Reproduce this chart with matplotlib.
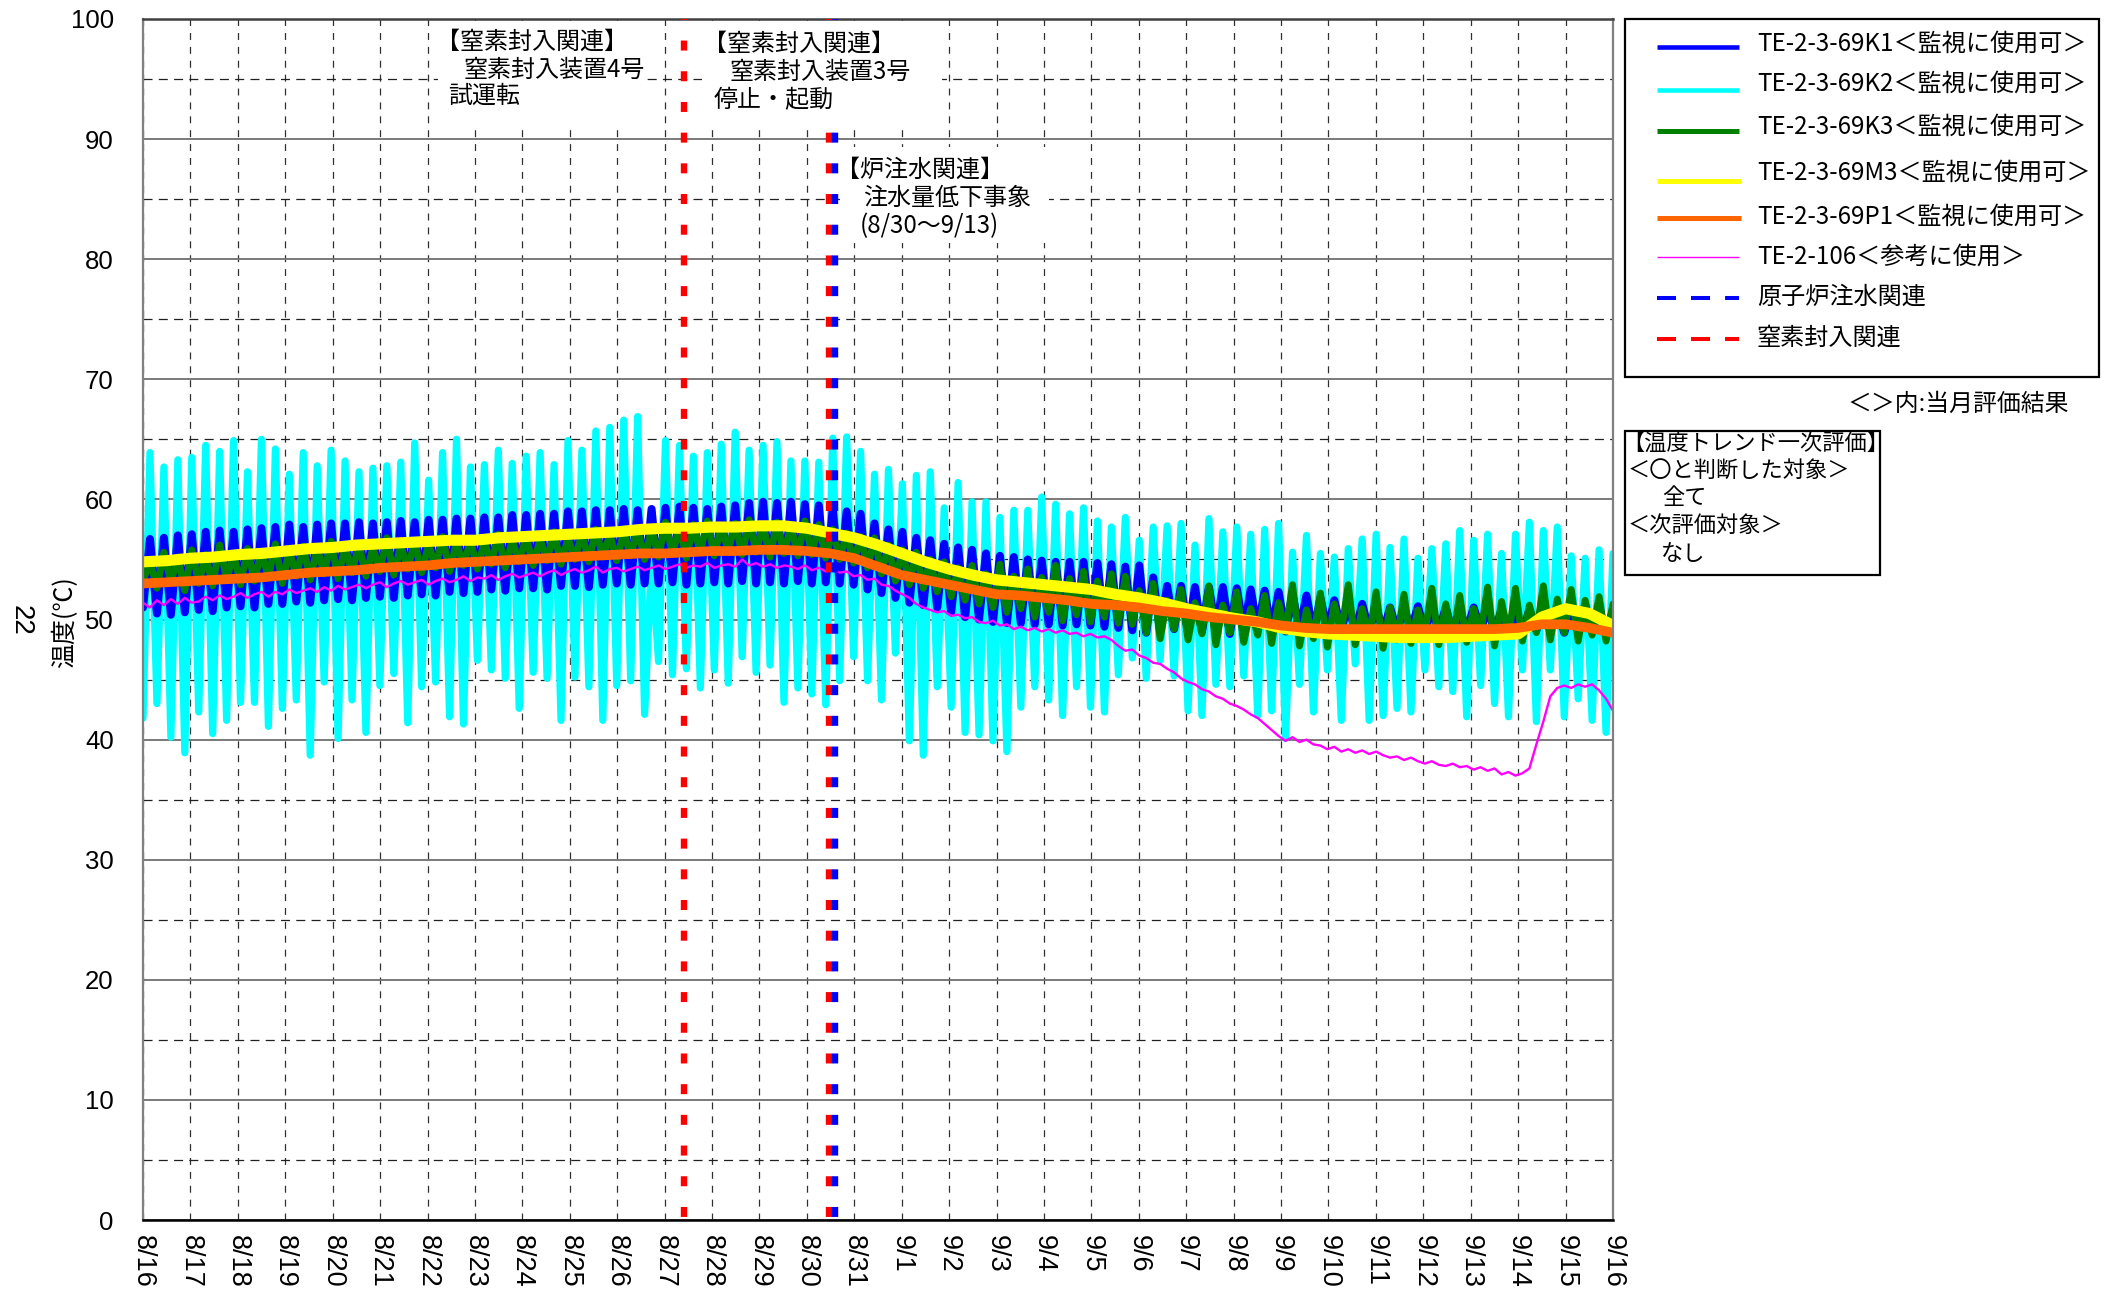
import numpy as np
import matplotlib
matplotlib.use("Agg")
import matplotlib.pyplot as plt
from matplotlib.lines import Line2D
from matplotlib.patches import Rectangle
from matplotlib.ticker import MultipleLocator

plt.rcParams['font.family'] = ['Liberation Sans', 'Noto Sans CJK JP', 'DejaVu Sans']
plt.rcParams['lines.scale_dashes'] = False
JP = ['Noto Sans CJK JP', 'DejaVu Sans']

# ---------------- data ----------------
x_labels = ['8/16', '8/17', '8/18', '8/19', '8/20', '8/21', '8/22', '8/23', '8/24', '8/25',
            '8/26', '8/27', '8/28', '8/29', '8/30', '8/31', '9/1', '9/2', '9/3', '9/4',
            '9/5', '9/6', '9/7', '9/8', '9/9', '9/10', '9/11', '9/12', '9/13', '9/14',
            '9/15', '9/16']
n_days = 31                 # 8/16 0:00 -> 9/16 0:00
n_samples = 212             # readings (alternating low / high)
sample_step = n_days / (n_samples - 1)
hd_step = 0.5               # half-day samples for the smooth series

# TE-2-3-69K2 (cyan): lows and highs of each swing
k2_lows = [41.8,
           43.0, 40.2, 38.9, 42.3, 40.5, 41.6, 43.1, 43.1, 41.1, 42.6,
           43.3, 38.7, 44.8, 40.1, 43.3, 40.6, 44.5, 45.5, 41.4, 44.4,
           44.8, 41.9, 41.3, 46.6, 45.8, 45.1, 42.6, 45.6, 45.1, 41.6,
           45.2, 44.4, 41.6, 44.5, 44.9, 42.1, 46.5, 45.4, 45.9, 44.3,
           45.8, 44.7, 46.9, 45.6, 46.2, 43.1, 44.3, 43.8, 42.9, 44.9,
           46.9, 44.9, 43.3, 47.2, 39.9, 38.7, 44.4, 42.7, 40.6, 40.4,
           39.9, 39.0, 42.7, 44.4, 43.3, 42.0, 44.4, 42.7, 42.3, 45.4,
           46.8, 45.1, 46.6, 45.3, 42.4, 42.0, 44.6, 44.4, 45.3, 42.0,
           42.4, 40.1, 44.6, 42.3, 45.8, 41.6, 46.3, 41.6, 42.0, 42.6,
           42.3, 45.8, 44.4, 44.0, 41.9, 44.5, 43.0, 41.9, 45.8, 41.5,
           45.8, 41.9, 43.4, 41.6, 40.6]
k2_highs = [63.9, 62.7, 63.3, 63.5, 64.5, 64.0, 64.9, 62.3, 65.0, 64.2,
            62.1, 63.9, 62.8, 64.1, 63.2, 62.3, 62.6, 62.8, 63.1, 64.7,
            61.6, 63.9, 65.0, 62.7, 62.9, 64.1, 63.0, 63.6, 63.9, 62.9,
            64.9, 64.1, 65.7, 66.0, 66.6, 66.9, 55.0, 64.9, 64.5, 63.6,
            63.9, 64.6, 65.6, 64.1, 64.5, 64.8, 63.2, 63.2, 63.1, 65.1,
            65.2, 64.0, 62.1, 62.5, 61.3, 62.0, 62.3, 59.3, 61.4, 59.8,
            59.8, 58.5, 59.1, 59.1, 60.2, 59.6, 58.8, 59.3, 58.2, 57.7,
            58.5, 56.6, 57.7, 57.8, 58.0, 56.2, 58.4, 57.3, 57.7, 57.1,
            57.5, 58.0, 55.6, 57.0, 55.5, 55.2, 55.9, 56.7, 57.1, 56.0,
            56.7, 55.1, 55.9, 56.3, 57.4, 56.6, 57.1, 55.5, 57.1, 58.1,
            57.4, 57.7, 55.3, 55.1, 55.8, 55.5]

# TE-2-3-69K1 (blue)
k1_lows = [51.0,
           50.5, 50.4, 50.6, 50.8, 50.7, 51.0, 51.1, 51.0, 51.3, 51.3,
           51.5, 51.4, 51.6, 51.7, 51.6, 51.8, 51.9, 51.8, 52.0, 52.1,
           52.0, 52.3, 52.2, 52.3, 52.5, 52.4, 52.6, 52.6, 52.5, 52.8,
           52.8, 52.7, 52.9, 53.0, 52.9, 53.0,
           53.0, 53.1, 52.9, 53.0, 53.1, 53.0, 53.2, 53.0, 53.1, 53.0, 53.2, 53.0, 53.1,
           53.0, 52.9, 52.5, 52.2, 51.8, 51.4, 51.2, 51.0, 50.6, 50.2,
           50.0, 49.8, 49.7, 49.7, 49.6, 49.6, 49.5, 49.6, 49.5, 49.4, 49.3,
           49.1, 48.9, 49.0, 49.2, 48.9, 49.0, 49.1, 48.8, 49.0, 49.1,
           48.9, 49.0, 49.0, 48.8, 49.0, 49.1, 48.9, 49.0, 48.9, 49.0,
           49.1, 48.9, 49.0, 48.8, 49.0, 49.1, 49.0, 48.9, 49.0, 49.1,
           49.0, 48.9, 48.9, 49.0, 48.8]
k1_highs = [56.7, 56.8, 57.0, 57.1, 57.3, 57.4, 57.3, 57.5, 57.6, 57.7,
            57.9, 57.7, 57.9, 58.0, 58.0, 58.1, 58.0, 58.1, 58.2, 58.1,
            58.3, 58.3, 58.4, 58.4, 58.5, 58.5, 58.7, 58.7, 58.8, 58.8,
            59.0, 59.0, 59.1, 59.1, 59.2, 59.1,
            59.2, 59.3, 59.4, 59.3, 59.2, 59.4, 59.5, 59.7, 59.8, 59.7, 59.8, 59.6, 59.5,
            59.2, 59.0, 58.8, 58.0, 57.5, 57.3, 56.8, 56.6, 56.3, 56.0,
            55.8, 55.5, 55.3, 55.2, 55.0, 54.9, 54.8, 54.8, 54.8, 54.7, 54.6,
            54.4, 54.5, 53.5, 52.8, 52.8, 52.7, 52.7, 52.7, 52.6, 52.5,
            52.4, 52.3, 52.1, 52.0, 51.8, 51.6, 51.4, 51.3, 51.1, 51.0,
            51.0, 51.1, 51.0, 51.0, 50.9, 51.0, 51.0, 50.8, 50.7, 50.8,
            51.0, 51.1, 51.0, 51.2, 51.0, 50.8]

# TE-2-3-69K3 (green)
k3_lows = [53.2,
           52.6, 53.1, 52.4, 53.0, 52.8, 53.3, 52.9, 53.2, 53.5, 53.0,
           53.6, 53.3, 53.8, 53.4, 53.9, 53.6, 54.0, 53.7, 54.2, 53.9,
           54.3, 54.0, 54.5, 54.2, 54.6, 54.3, 54.8, 54.5, 54.9, 54.6,
           55.0, 54.8, 55.2, 54.9, 55.3, 55.0,
           55.2, 55.5, 55.1, 55.6, 55.3, 55.7, 55.4, 55.6, 55.2, 55.5, 55.3, 55.4, 55.1,
           55.0, 54.7, 54.3, 53.8, 53.2, 52.9, 52.6, 52.3, 51.9, 51.6,
           51.3, 51.0, 50.6, 50.9, 50.2, 50.6, 49.9, 50.4, 49.8, 50.2, 49.7,
           49.6, 48.9, 48.4, 49.2, 48.3, 48.8, 47.9, 48.9, 48.1, 48.7,
           48.0, 49.0, 47.8, 48.4, 47.7, 48.9, 47.9, 48.5, 47.6, 48.3,
           48.0, 48.9, 47.9, 48.4, 48.1, 48.8, 47.8, 48.6, 48.2, 48.9,
           48.3, 48.9, 48.2, 48.7, 48.2]
k3_highs = [54.9, 55.6, 55.2, 55.8, 55.4, 56.2, 55.5, 55.9, 55.7, 56.3,
            55.8, 56.1, 56.0, 56.5, 56.1, 56.3, 56.0, 56.8, 56.2, 56.5,
            56.3, 56.9, 56.4, 56.6, 56.5, 57.1, 56.6, 56.9, 56.7, 57.3,
            56.8, 57.2, 57.5, 57.1, 57.3, 57.6,
            57.6, 58.1, 57.7, 57.9, 58.2, 57.8, 58.0, 58.3, 57.9, 58.1, 57.8, 58.2, 57.9,
            57.5, 57.2, 56.9, 56.8, 56.2, 55.8, 55.6, 55.0, 54.8, 54.3,
            54.5, 53.8, 54.6, 53.6, 54.2, 53.5, 54.5, 53.4, 54.0, 53.2, 53.8,
            53.6, 52.4, 53.0, 51.6, 52.5, 51.4, 52.8, 51.2, 52.3, 50.9,
            52.0, 51.4, 52.9, 50.8, 52.2, 51.3, 52.9, 50.9, 52.3, 51.0,
            52.1, 50.8, 52.6, 51.3, 52.0, 50.9, 52.7, 51.5, 52.6, 51.2,
            52.8, 51.7, 52.5, 51.6, 51.9, 51.3]

# TE-2-3-69M3 (yellow), half-day values
m3_values = [54.8, 54.9, 55.1, 55.2, 55.4, 55.5, 55.7, 55.9, 56.0, 56.2,
             56.3, 56.4, 56.5, 56.6, 56.6, 56.8, 56.9, 57.0, 57.1, 57.2,
             57.3, 57.5, 57.6, 57.6, 57.7, 57.7, 57.8, 57.8, 57.6, 57.2,
             56.8, 56.2, 55.5, 54.8, 54.2, 53.7, 53.3, 53.1, 52.9, 52.7,
             52.5, 52.1, 51.8, 51.4, 50.9, 50.5, 50.1, 49.8, 49.3, 49.0,
             48.8, 48.7, 48.6, 48.5, 48.5, 48.5, 48.6, 48.7, 48.8, 50.2,
             50.9, 50.5, 49.5]

# TE-2-3-69P1 (orange), half-day values
p1_values = [53.0, 53.1, 53.2, 53.3, 53.4, 53.5, 53.7, 53.9, 54.0, 54.1,
             54.3, 54.4, 54.5, 54.7, 54.8, 54.9, 55.0, 55.1, 55.2, 55.3,
             55.4, 55.5, 55.5, 55.6, 55.7, 55.7, 55.8, 55.8, 55.7, 55.5,
             55.1, 54.4, 53.7, 53.3, 52.9, 52.5, 52.1, 52.0, 51.8, 51.6,
             51.3, 51.2, 51.0, 50.7, 50.5, 50.2, 50.0, 49.8, 49.5, 49.3,
             49.2, 49.2, 49.2, 49.2, 49.2, 49.2, 49.2, 49.2, 49.3, 49.6,
             49.6, 49.3, 48.9]

# TE-2-106 (magenta)
t106_values = [51.4, 51.0, 51.6, 51.2, 51.7, 51.3, 51.8, 51.4, 51.5, 51.9,
               51.6, 52.0, 51.7, 51.9, 52.2, 51.8, 52.1, 52.3, 51.9, 52.3,
               52.1, 52.5, 52.2, 52.4, 52.6, 52.3, 52.7, 52.4, 52.8, 52.5,
               52.7, 52.9, 52.6, 52.9, 53.1, 52.7, 53.0, 53.2, 52.9, 53.1,
               53.3, 52.9, 53.2, 53.4, 53.1, 53.3, 53.6, 53.2, 53.5, 53.4,
               53.7, 53.3, 53.6, 53.8, 53.5, 53.7, 53.9, 53.6, 53.9, 54.1,
               53.7, 54.0, 54.2, 53.9, 54.1, 54.4, 53.9, 54.2, 54.3, 54.0,
               54.2, 54.4, 54.1, 54.3, 54.5, 54.2, 54.4, 54.6, 54.3, 54.5,
               54.4, 54.7, 54.3, 54.5, 54.6, 54.4, 55.0, 54.5, 54.7, 54.4,
               54.6, 54.3, 54.5, 54.4, 54.2, 54.5, 54.1, 54.3, 54.0, 54.2,
               53.9, 54.0, 53.6, 53.7, 53.3, 53.4, 52.9, 52.8, 52.4, 52.1,
               51.8, 51.3, 51.0, 50.8, 50.6, 50.7, 50.3, 50.4, 50.1, 50.2,
               49.8, 49.7, 49.9, 49.5, 49.6, 49.2, 49.4, 49.1, 49.3, 49.0,
               49.2, 48.9, 49.1, 48.8, 48.9, 48.6, 48.8, 48.5, 48.6, 48.3,
               47.8, 47.4, 47.5, 47.0, 46.8, 46.4, 46.3, 45.9, 45.6, 45.1,
               44.8, 44.6, 44.2, 44.0, 43.6, 43.4, 43.0, 42.8, 42.5, 42.1,
               41.8, 41.3, 40.8, 40.3, 39.9, 40.2, 39.8, 40.0, 39.6, 39.5,
               39.2, 39.4, 39.0, 39.2, 38.9, 39.1, 38.8, 39.0, 38.7, 38.5,
               38.6, 38.3, 38.5, 38.2, 38.0, 38.2, 37.9, 37.8, 38.0, 37.7,
               37.8, 37.5, 37.7, 37.4, 37.6, 37.1, 37.3, 37.0, 37.2, 37.6,
               39.6, 41.5, 43.6, 44.3, 44.5, 44.3, 44.6, 44.4, 44.6, 44.1,
               43.4, 42.4]

# events (days after 8/16 0:00)
nitrogen_events = [11.415, 14.46]
water_events = [14.60]

# ---------------- build series ----------------
t_samples = np.arange(n_samples) * sample_step
t_half_day = np.arange(len(m3_values)) * hd_step


def swing(lows, highs):
    v = np.empty(len(lows) + len(highs))
    v[0::2] = lows
    v[1::2] = highs
    return v


k1 = swing(k1_lows, k1_highs)
k2 = swing(k2_lows, k2_highs)
k3 = swing(k3_lows, k3_highs)

# ---------------- figure ----------------
W, H = 2111, 1303
fig = plt.figure(figsize=(W / 100, H / 100), dpi=100, facecolor='white')


def fx(x):
    return x / W


def fy(y):
    return 1 - y / H


ax = fig.add_axes([fx(143), fy(1220), (1613 - 143) / W, (1220 - 19) / H])
ax.set_xlim(0, n_days)
ax.set_ylim(0, 100)

style = dict(solid_joinstyle='round', solid_capstyle='round')
ax.plot(t_samples, k2, color='#00FFFF', lw=5.2, zorder=2.0, **style)
ax.plot(t_samples, k1, color='#0000FF', lw=5.8, zorder=2.1, **style)
ax.plot(t_samples, k3, color='#008000', lw=5.0, zorder=2.2, **style)
ax.plot(t_half_day, m3_values, color='#FFFF00', lw=8.0, zorder=2.3, **style)
ax.plot(t_half_day, p1_values, color='#FF6600', lw=7.0, zorder=2.4, **style)
ax.plot(t_samples, t106_values, color='#FF00FF', lw=1.7, zorder=2.5, **style)

ev_dash = (19.9, (7.2, 14.9))
for x in nitrogen_events:
    ax.axvline(x, color='#FF0000', lw=4.6, ls=ev_dash, zorder=3)
for x in water_events:
    ax.axvline(x, color='#0000FF', lw=4.6, ls=ev_dash, zorder=3)

# grid
ax.set_axisbelow(True)
ax.set_xticks(range(n_days + 1))
ax.set_xticklabels(x_labels, rotation=-90, fontsize=19.5, family='Liberation Sans')
ax.set_yticks(range(0, 101, 10))
ax.yaxis.set_minor_locator(MultipleLocator(5))
ax.tick_params(axis='y', which='major', labelsize=18.5, pad=21, length=0)
ax.tick_params(axis='y', which='minor', length=0)
ax.tick_params(axis='x', which='major', pad=11, length=0)
ax.yaxis.grid(True, which='major', color='#707070', lw=1.3, ls='-')
ax.yaxis.grid(True, which='minor', color='#202020', lw=0.9, ls=(0, (6.5, 4.5)))
ax.xaxis.grid(True, which='major', color='#303030', lw=0.9, ls=(0, (5.0, 5.0)))

for side, c, w in [('left', '#808080', 1.6), ('right', '#808080', 1.6),
                   ('top', '#404040', 1.8), ('bottom', '#000000', 1.8)]:
    ax.spines[side].set_color(c)
    ax.spines[side].set_linewidth(w)

# axis titles
fig.text(fx(65), fy(622), '温度(℃)', rotation=90, fontsize=18, family=JP,
         ha='center', va='center')
fig.text(fx(21), fy(620), '22', rotation=-90, fontsize=20, ha='center', va='center')

# annotation boxes (white background)
boxes = [(438, 21, 646, 130), (702, 21, 942, 128), (841, 147, 1049, 243)]
for x0, y0, x1, y1 in boxes:
    ax.add_patch(Rectangle((fx(x0), fy(y1)), fx(x1) - fx(x0), fy(y0) - fy(y1),
                           transform=fig.transFigure, facecolor='white',
                           edgecolor='none', zorder=4))

notes = [
    (436, 42, '【窒素封入関連】'), (464, 70, '窒素封入装置4号'), (448, 96, '試運転'),
    (703, 44, '【窒素封入関連】'), (730, 72, '窒素封入装置3号'), (714, 100, '停止・起動'),
    (836, 170, '【炉注水関連】'), (863, 198, '注水量低下事象'), (860, 226, '(8/30～9/13)'),
]
for x, y, s in notes:
    ax.text(fx(x), fy(y), s, transform=fig.transFigure, fontsize=17.3, family=JP,
            ha='left', va='center', zorder=5)

# legend (drawn at fixed place at right)
fig.add_artist(Rectangle((fx(1625), fy(377)), fx(2099) - fx(1625), fy(19) - fy(377),
                         transform=fig.transFigure, fill=False, edgecolor='black', lw=1.6))
legend_rows = [
    ('#0000FF', 3.3, '-', 47, 44, 'TE-2-3-69K1＜監視に使用可＞', 1739),
    ('#00FFFF', 3.3, '-', 90, 84, 'TE-2-3-69K2＜監視に使用可＞', 1739),
    ('#008000', 3.6, '-', 131, 127, 'TE-2-3-69K3＜監視に使用可＞', 1739),
    ('#FFFF00', 3.6, '-', 181, 173, 'TE-2-3-69M3＜監視に使用可＞', 1741),
    ('#FF6600', 3.6, '-', 218, 217, 'TE-2-3-69P1＜監視に使用可＞', 1741),
    ('#FF00FF', 1.0, '-', 257, 257, 'TE-2-106＜参考に使用＞', 1739),
    ('#0000FF', 2.9, (0, (13.7, 10.8)), 298, 297, '原子炉注水関連', 1739),
    ('#FF0000', 2.9, (0, (13.7, 10.8)), 339, 338, '窒素封入関連', 1739),
]
for c, lw, ls, yl, yt, label, xe in legend_rows:
    fig.add_artist(Line2D([fx(1657), fx(xe)], [fy(yl), fy(yl)], color=c, lw=lw, ls=ls,
                          solid_capstyle='butt', dash_capstyle='butt',
                          transform=fig.transFigure))
    fig.text(fx(1757), fy(yt), label, fontsize=17.4, family=JP, ha='left', va='center')

fig.text(fx(1848), fy(404), '＜＞内:当月評価結果', fontsize=17.2, family=JP,
         ha='left', va='center')

fig.add_artist(Rectangle((fx(1625), fy(575)), fx(1880) - fx(1625), fy(431) - fy(575),
                         transform=fig.transFigure, fill=False, edgecolor='black', lw=1.6))
eval_lines = [(1622, 444, '【温度トレンド一次評価】'), (1628, 471, '＜〇と判断した対象＞'),
              (1662, 498, '全て'), (1628, 525, '＜次評価対象＞'), (1661, 554, 'なし')]
for x, y, s in eval_lines:
    fig.text(fx(x), fy(y), s, fontsize=16, family=JP, ha='left', va='center')

fig.savefig('out.png', dpi=100, facecolor='white')
